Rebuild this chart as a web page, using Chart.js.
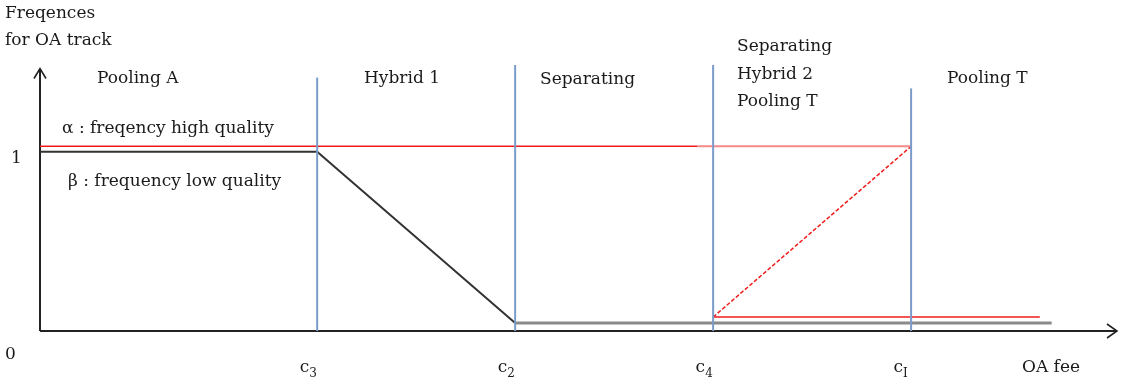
<!DOCTYPE html>
<html>
<head>
<meta charset="utf-8">
<script src="https://cdn.jsdelivr.net/npm/chart.js@4/dist/chart.umd.min.js"></script>
<style>
  body { margin: 0; background: #fff; }
  #wrap { width: 1126px; height: 383px; }
</style>
</head>
<body>
<div id="wrap"><canvas id="chart" width="1126" height="383"></canvas></div>
<script>
// Regime boundaries on the OA fee axis
const boundaryNames = ['3', '2', '4', 'I'];
const boundaryX = [1.4, 2.4, 3.4, 4.4];
const boundaryTop = [1.40, 1.47, 1.47, 1.34];

// Regime labels
const regimeLabels = [['Pooling A'], ['Hybrid 1'], ['Separating'], ['Separating', 'Hybrid 2', 'Pooling T'], ['Pooling T']];

// alpha : frequency high quality
const alphaX = [0, 3.32];
const alphaY = [1.02, 1.02];
const alphaFaintX = [3.32, 4.4];
const alphaFaintY = [1.02, 1.02];
const alphaRiseX = [3.4, 4.4];
const alphaRiseY = [0.077, 1.02];
const alphaLowX = [3.4, 5.05];
const alphaLowY = [0.077, 0.077];

// beta : frequency low quality
const betaX = [0, 1.4, 2.4];
const betaY = [0.99, 0.99, 0.044];
const betaTailX = [2.4, 5.11];
const betaTailY = [0.044, 0.044];

const xMax = 5.44;
const yMax = 1.497;
const axisTop = 1.45;
const FONT = '17px "DejaVu Serif", serif';
const SUB_FONT = '12px "DejaVu Serif", serif';

function pts(xs, ys) {
  return xs.map((x, i) => ({ x: x, y: ys[i] }));
}

function lineSet(xs, ys, color, width, dash) {
  return {
    data: pts(xs, ys),
    showLine: true,
    borderColor: color,
    borderWidth: width,
    borderDash: dash || [],
    pointRadius: 0,
    fill: false
  };
}

const datasets = [];
boundaryX.forEach((x, i) => {
  datasets.push(lineSet([x, x], [0, boundaryTop[i]], '#7b9bcb', 2));
});
datasets.push(lineSet(alphaX, alphaY, '#f01a1a', 1.5));
datasets.push(lineSet(alphaFaintX, alphaFaintY, '#f58a8a', 2));
datasets.push(lineSet(betaX, betaY, '#333333', 2));
datasets.push(lineSet(betaTailX, betaTailY, '#8a8a8a', 3));
datasets.push(lineSet(alphaLowX, alphaLowY, '#f01a1a', 1.5));
datasets.push(lineSet(alphaRiseX, alphaRiseY, '#f01a1a', 1.5, [4, 2]));

// axes with arrow heads, plus all the text
const axesPlugin = {
  id: 'axes',
  beforeDatasetsDraw(chart) {
    const ctx = chart.ctx;
    const xs = chart.scales.x, ys = chart.scales.y;
    const x0 = xs.getPixelForValue(0), y0 = ys.getPixelForValue(0);
    const xe = xs.getPixelForValue(xMax), yt = ys.getPixelForValue(axisTop);
    ctx.save();
    ctx.strokeStyle = '#222';
    ctx.lineWidth = 2;
    ctx.beginPath();
    ctx.moveTo(x0, y0); ctx.lineTo(xe - 1, y0);
    ctx.moveTo(x0, y0); ctx.lineTo(x0, yt + 1);
    ctx.stroke();
    ctx.lineWidth = 1.6;
    ctx.beginPath();
    ctx.moveTo(xe - 10, y0 - 7); ctx.lineTo(xe, y0); ctx.lineTo(xe - 10, y0 + 7);
    ctx.moveTo(x0 - 6, yt + 10); ctx.lineTo(x0, yt); ctx.lineTo(x0 + 6, yt + 10);
    ctx.stroke();
    ctx.restore();
  },
  afterDraw(chart) {
    const ctx = chart.ctx;
    const xs = chart.scales.x;
    ctx.save();
    ctx.fillStyle = '#1a1a1a';
    ctx.font = FONT;
    ctx.textBaseline = 'alphabetic';

    // axis titles
    ctx.textAlign = 'left';
    ctx.fillText('Freqences', 5, 18);
    ctx.fillText('for OA track', 5, 45);
    ctx.fillText('OA fee', 1022, 372);
    ctx.fillText('0', 5, 359);
    ctx.fillText('1', 11, 163);

    // regime labels
    const regimeX = [97, 364, 540, 737, 947];
    const regimeY = [83, 83, 84, 51, 83];
    regimeLabels.forEach((lines, i) => {
      lines.forEach((t, j) => ctx.fillText(t, regimeX[i], regimeY[i] + j * 27.5));
    });

    // series labels
    ctx.fillText('\u03b1 : freqency high quality', 62, 133);
    ctx.fillText('\u03b2 : frequency low quality', 68, 186);

    // boundary ticks: c with subscript, sitting just left of each line
    boundaryX.forEach((x, i) => {
      const px = xs.getPixelForValue(x);
      ctx.font = FONT;
      ctx.textAlign = 'right';
      ctx.fillText('c', px - 8, 372);
      ctx.font = SUB_FONT;
      ctx.textAlign = 'left';
      ctx.fillText(boundaryNames[i], px - 8, 377);
    });
    ctx.restore();
  }
};

new Chart(document.getElementById('chart'), {
  type: 'scatter',
  data: { datasets: datasets },
  options: {
    responsive: false,
    animation: false,
    layout: { padding: { left: 40, right: 9, top: 60, bottom: 52 } },
    plugins: { legend: { display: false }, tooltip: { enabled: false } },
    scales: {
      x: { type: 'linear', min: 0, max: xMax, display: false },
      y: { type: 'linear', min: 0, max: yMax, display: false }
    },
    elements: { line: { tension: 0 } }
  },
  plugins: [axesPlugin]
});
</script>
</body>
</html>
